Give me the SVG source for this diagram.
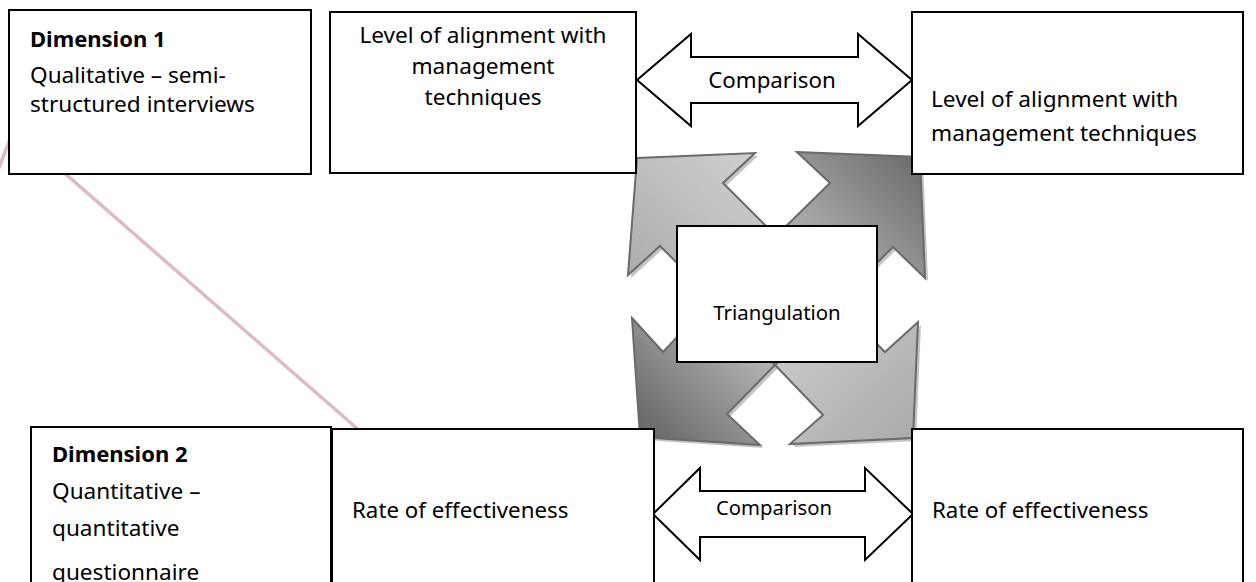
<svg xmlns="http://www.w3.org/2000/svg" width="1256" height="582" viewBox="0 0 1256 582">
<style>
.box{fill:#fff;stroke:#000;stroke-width:2}
.t{font-family:"Noto Sans","Open Sans","Liberation Sans",sans-serif;font-size:22.6px;fill:#000}
.b{font-weight:bold;font-size:22px}
.c{text-anchor:middle}
.cmp{fill:#fff;stroke:#000;stroke-width:2;stroke-linejoin:miter}
.piece{stroke:#6a6a6a;stroke-width:2;stroke-linejoin:miter}
.shadow{fill:#c4c4c4}
</style>
<defs>
<linearGradient id="gTL" x1="0" y1="1" x2="1" y2="0"><stop offset="0" stop-color="#a9a9a9"/><stop offset="1" stop-color="#d3d3d3"/></linearGradient>
<linearGradient id="gTR" x1="0" y1="1" x2="1" y2="0"><stop offset="0" stop-color="#cbcbcb"/><stop offset="1" stop-color="#686868"/></linearGradient>
<linearGradient id="gBL" x1="0" y1="1" x2="1" y2="0"><stop offset="0" stop-color="#5e5e5e"/><stop offset="1" stop-color="#cdcdcd"/></linearGradient>
<linearGradient id="gBR" x1="0" y1="0" x2="1" y2="1"><stop offset="0" stop-color="#d0d0d0"/><stop offset="1" stop-color="#a9a9a9"/></linearGradient>
</defs>
<rect width="1256" height="582" fill="#fff"/>
<g id="connectors">
<polyline points="-2,170 14,129 360,431" fill="none" stroke="#dcbcc0" stroke-width="3.5"/>
<g id="triangulation-arrows">
<g transform="translate(3,3)">
<polygon class="shadow" points="637,158 755,153 723,183 776,236 713,299 660,246 628,275"/>
<polygon class="shadow" points="797,152 920,157 925,278 893,247 836,303 776,236 830,183"/>
<polygon class="shadow" points="918,322 913,438 790,444 823,415 775,365 836,303 885,352"/>
<polygon class="shadow" points="632,318 663,352 713,299 775,365 727,414 760,445 640,437"/>
</g>
<polygon class="piece" fill="url(#gTL)" points="637,158 755,153 723,183 776,236 713,299 660,246 628,275"/>
<polygon class="piece" fill="url(#gTR)" points="797,152 920,157 925,278 893,247 836,303 776,236 830,183"/>
<polygon class="piece" fill="url(#gBR)" points="918,322 913,438 790,444 823,415 775,365 836,303 885,352"/>
<polygon class="piece" fill="url(#gBL)" points="632,318 663,352 713,299 775,365 727,414 760,445 640,437"/>
</g>
<g id="comparison-top">
<polygon class="cmp" points="637,80 691,34 691,57 858,57 858,34 912,80 858,126 858,103 691,103 691,126"/>
<text class="t c" x="772" y="88" style="font-size:22.3px">Comparison</text>
</g>
<g id="comparison-bottom">
<polygon class="cmp" points="653,514 700,468 700,491 865,491 865,468 913,514 865,560 865,537 700,537 700,560"/>
<text class="t c" x="774" y="515" style="font-size:20.3px">Comparison</text>
</g>
</g>
<g id="dimension1">
<rect class="box" x="9" y="10" width="302" height="164"/>
<text class="t b" x="30" y="47">Dimension 1</text>
<text class="t" x="30" y="83">Qualitative – semi-</text>
<text class="t" x="30" y="112">structured interviews</text>
</g>
<g id="alignment-left">
<rect class="box" x="330" y="12" width="306" height="161"/>
<text class="t c" x="483" y="43">Level of alignment with</text>
<text class="t c" x="483" y="74">management</text>
<text class="t c" x="483" y="105">techniques</text>
</g>
<g id="alignment-right">
<rect class="box" x="912" y="12" width="331" height="162"/>
<text class="t" x="931" y="107">Level of alignment with</text>
<text class="t" x="931" y="141">management techniques</text>
</g>
<g id="triangulation">
<rect class="box" x="677" y="226" width="200" height="136"/>
<text class="t c" x="777" y="320" style="font-size:20.4px">Triangulation</text>
</g>
<g id="dimension2">
<rect class="box" x="31" y="427" width="300" height="170"/>
<text class="t b" x="52" y="462">Dimension 2</text>
<text class="t" x="52" y="499">Quantitative –</text>
<text class="t" x="52" y="536">quantitative</text>
<text class="t" x="52" y="580">questionnaire</text>
</g>
<g id="rate-left">
<rect class="box" x="332" y="429" width="322" height="170"/>
<text class="t" x="352" y="518" style="font-size:22.3px">Rate of effectiveness</text>
</g>
<g id="rate-right">
<rect class="box" x="912" y="429" width="331" height="170"/>
<text class="t" x="932" y="518" style="font-size:22.3px">Rate of effectiveness</text>
</g>
</svg>
